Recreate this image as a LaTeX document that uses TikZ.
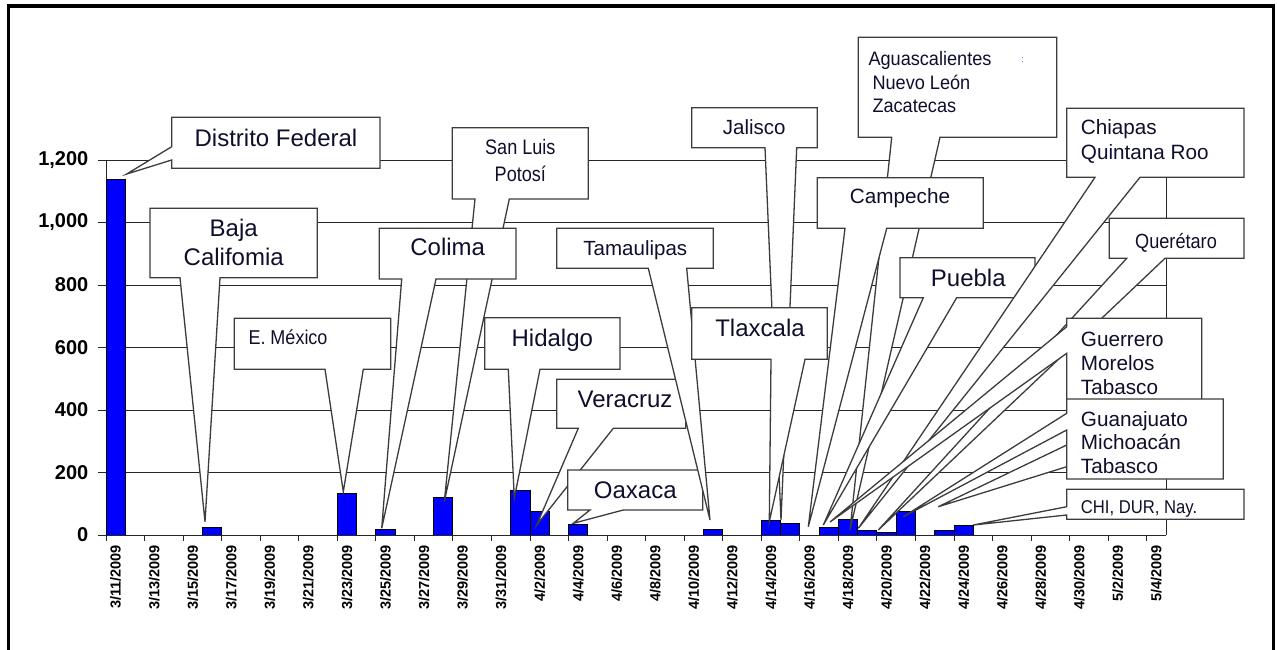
\documentclass[tikz,border=0pt]{standalone}
\usepackage{fontspec}
\usepackage{graphicx}
\setmainfont{Liberation Sans}
\definecolor{barblue}{RGB}{0,0,255}
\definecolor{lbl}{RGB}{15,15,45}
\definecolor{cedge}{RGB}{60,60,60}

% callout with the wedge on the bottom edge: x1,y1,x2,y2, base1,base2, tip x,y
\newcommand\calloutbottom[8]{%
  \filldraw[callout] (#1,#2) -- (#3,#2) -- (#3,#4) -- (#6,#4) -- (#7,#8) -- (#5,#4) -- (#1,#4) -- cycle;}
% callout with the wedge on the left edge: x1,y1,x2,y2, base1,base2 (y), tip x,y
\newcommand\calloutleft[8]{%
  \filldraw[callout] (#1,#2) -- (#3,#2) -- (#3,#4) -- (#1,#4) -- (#1,#6) -- (#7,#8) -- (#1,#5) -- cycle;}
\newcommand\fsz[1]{\fontsize{#1}{#1}\selectfont}

\begin{document}
\begin{tikzpicture}[x=1pt,y=-1pt,
  grid/.style={line width=0.9pt,black!85},
  bar/.style={fill=barblue,draw=black,line width=0.9pt},
  callout/.style={fill=white,draw=cedge,line width=1.3pt,line join=miter},
  ctext/.style={text=lbl,inner sep=0pt},
  ylab/.style={font=\bfseries\fsz{20},anchor=east,inner sep=0pt},
  xlab/.style={font=\bfseries\fsz{14.5},rotate=90,anchor=east,inner sep=0pt}]
\useasboundingbox (0,0) rectangle (1277,649);
\fill[white] (0,0) rectangle (1277,649);

% gridlines, axes and plot border
\foreach \v/\t in {0/0,200/200,400/400,600/600,800/800,1000/{1,000},1200/{1,200}}{
  \draw[grid] (106,{535-\v*0.3125}) -- (1166,{535-\v*0.3125});
  \draw[grid] (98,{535-\v*0.3125}) -- (106,{535-\v*0.3125});
  \node[ylab] (y\v) at (88.5,{535-\v*0.3125}) {\t};
}
\draw[grid] (106,160) -- (106,535);
\draw[grid] (1166,160) -- (1166,535);

% bars
\foreach \i/\v in {0/1138,5/23,12/132,14/18,17/119,21/143,22/75,24/35,31/18,34/47,35/36,37/23,38/51,39/16,40/7,41/75,43/16,44/29}{
  \draw[bar] ({106+\i*19.2727},535) rectangle ({106+(\i+1)*19.2727},{535-\v*0.3125});
}
\draw[grid] (106,535) -- (1166,535);

% category ticks and date labels
\foreach \d [count=\k from 0] in {3/11,3/13,3/15,3/17,3/19,3/21,3/23,3/25,3/27,3/29,3/31,4/2,4/4,4/6,4/8,4/10,4/12,4/14,4/16,4/18,4/20,4/22,4/24,4/26,4/28,4/30,5/2,5/4}{
  \draw[grid] ({106+2*\k*19.2727},535) -- ({106+2*\k*19.2727},541);
  \node[xlab] (d\k) at ({106+(2*\k+0.5)*19.2727},545) {\d/2009};
}

% callouts, back to front
\calloutleft{171.7}{117.3}{380}{168.3}{146.7}{160}{126.7}{174}
\node[ctext,font=\fsz{24},anchor=base] (df) at (276,146.7) {Distrito Federal};

\calloutbottom{150}{208.3}{317.3}{277.7}{180}{220}{205}{521.7}
\node[ctext,font=\fsz{24},anchor=base] (bc1) at (233.7,236.7) {Baja};
\node[ctext,font=\fsz{24},anchor=base] (bc2) at (233.7,265) {Califomia};

\calloutbottom{234.3}{318.3}{390.7}{369.3}{325}{363.3}{343.3}{491.7}
\node[ctext,font=\fsz{20},anchor=base west] (em) at (248.3,344) {\scalebox{0.9}[1]{E. México}};

\calloutbottom{452.3}{127.7}{588.3}{199}{475}{509.3}{444.3}{501.7}
\node[ctext,font=\fsz{21},anchor=base] (slp1) at (520.3,154) {\scalebox{0.86}[1]{San Luis}};
\node[ctext,font=\fsz{21},anchor=base] (slp2) at (520.3,181.7) {\scalebox{0.86}[1]{Potosí}};

\calloutbottom{379.3}{228.3}{516}{279}{401.7}{436}{381.7}{528.3}
\node[ctext,font=\fsz{24},anchor=base] (col) at (447.7,255) {Colima};

\calloutbottom{484.7}{317.7}{620}{369.3}{508.3}{540}{514.3}{498.3}
\node[ctext,font=\fsz{24},anchor=base] (hgo) at (552.3,346.7) {Hidalgo};

\calloutbottom{556.7}{379.3}{685.7}{428.3}{578.3}{613.3}{536.7}{525}
\node[ctext,font=\fsz{24},anchor=base] (ver) at (625,407.3) {Veracruz};

\calloutbottom{567.7}{470}{702.7}{510}{590}{623.3}{573.3}{523.3}
\node[ctext,font=\fsz{24},anchor=base] (oax) at (635.3,498.3) {Oaxaca};

\calloutbottom{556.7}{228.3}{713.3}{268.3}{648.3}{686.7}{710}{520}
\node[ctext,font=\fsz{20.5},anchor=base] (tam) at (635.3,255) {Tamaulipas};

\calloutbottom{691.7}{107.7}{817.3}{147.7}{765}{796.7}{781}{520}
\node[ctext,font=\fsz{20.5},anchor=base] (jal) at (754.3,134.3) {Jalisco};

\calloutbottom{691.7}{307.7}{827.3}{359.3}{771}{805}{769.3}{521.7}
\node[ctext,font=\fsz{24},anchor=base] (tlx) at (760,336.7) {Tlaxcala};

\calloutbottom{858.3}{37.3}{1056.7}{137.3}{891.7}{940}{850}{530}
\node[ctext,font=\fsz{19.5},anchor=base west] (ags1) at (868.3,65) {\scalebox{0.93}[1]{Aguascalientes}};
\node[ctext,font=\fsz{19.5},anchor=base west] (ags2) at (872.3,89.3) {\scalebox{0.93}[1]{Nuevo León}};
\node[ctext,font=\fsz{19.5},anchor=base west] (ags3) at (872.3,112.7) {\scalebox{0.93}[1]{Zacatecas}};
\node[text=barblue!70,font=\fsz{9},anchor=base,inner sep=0pt] (agsm) at (1022.7,62) {:};

\calloutbottom{817.3}{177.7}{983.3}{228.3}{845}{886.7}{808.3}{526.7}
\node[ctext,font=\fsz{20.7},anchor=base] (cam) at (900,203.3) {Campeche};

\calloutbottom{900}{257.7}{1035}{297.7}{923.3}{956.7}{823.3}{525}
\node[ctext,font=\fsz{24},anchor=base] (pue) at (968.3,286.7) {Puebla};

\calloutbottom{1066.7}{108.3}{1244}{177.3}{1095}{1140}{858.3}{528.3}
\node[ctext,font=\fsz{20.7},anchor=base west] (chp1) at (1080.7,134.3) {Chiapas};
\node[ctext,font=\fsz{20.7},anchor=base west] (chp2) at (1080.7,159.3) {Quintana Roo};

\calloutbottom{1109.3}{218.3}{1244}{258.3}{1126.7}{1165}{878.3}{530}
\node[ctext,font=\fsz{20.5},anchor=base] (qro) at (1176,248.3) {\scalebox{0.885}[1]{Querétaro}};

\calloutleft{1066.7}{440}{1200}{478}{445}{466.7}{938.3}{506.7}

\calloutleft{1066.7}{318.3}{1201.7}{400}{326.7}{353.3}{830}{522}
\node[ctext,font=\fsz{20.7},anchor=base west] (gro1) at (1080.7,346) {Guerrero};
\node[ctext,font=\fsz{20.7},anchor=base west] (gro2) at (1080.7,370) {Morelos};
\node[ctext,font=\fsz{20.7},anchor=base west] (gro3) at (1080.7,394) {Tabasco};

\calloutleft{1066.7}{399}{1223.3}{479}{413.3}{430}{903.3}{516.7}
\node[ctext,font=\fsz{20.7},anchor=base west] (gto1) at (1080.7,426) {Guanajuato};
\node[ctext,font=\fsz{20.7},anchor=base west] (gto2) at (1080.7,449.3) {Michoacán};
\node[ctext,font=\fsz{20.7},anchor=base west] (gto3) at (1080.7,473.3) {Tabasco};

\calloutleft{1066.7}{489.3}{1244}{519.3}{506.7}{515}{973.3}{525}
\node[ctext,font=\fsz{18.5},anchor=base west] (chi) at (1080.7,513.3) {\scalebox{0.9}[1]{CHI, DUR, Nay.}};

% outer frame
\draw[line width=3.5pt] (8.5,670) -- (8.5,6) -- (1273.5,6) -- (1273.5,670);
\end{tikzpicture}
\end{document}
